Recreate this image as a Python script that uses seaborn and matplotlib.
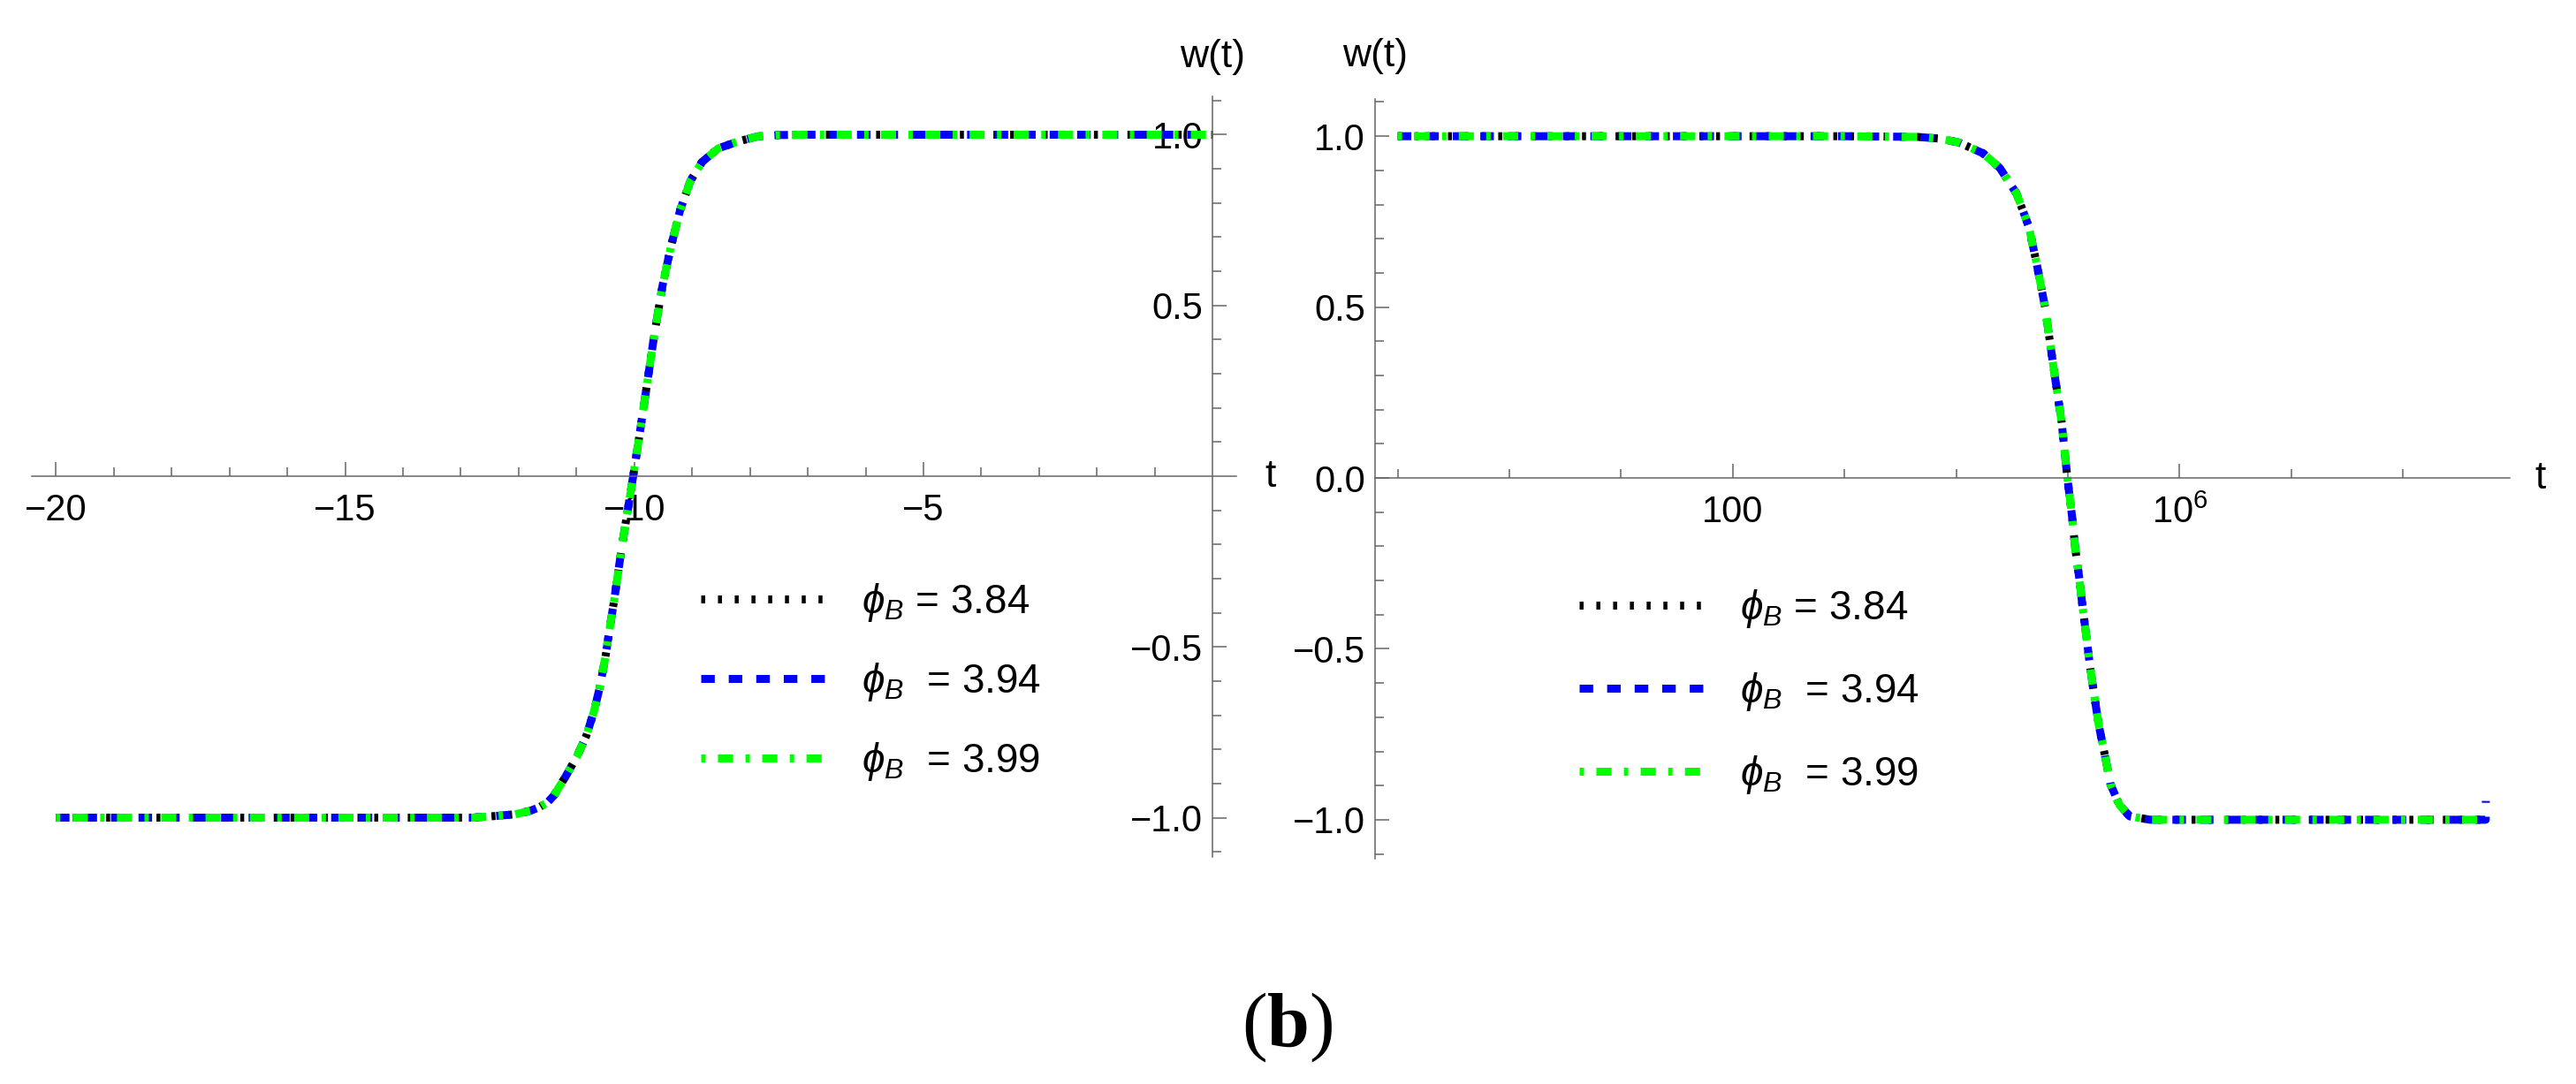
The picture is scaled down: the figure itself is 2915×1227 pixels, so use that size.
import numpy as np
import pandas as pd
import matplotlib.pyplot as plt
import matplotlib.transforms as mtransforms
from matplotlib.ticker import FixedLocator, FixedFormatter, NullFormatter
import seaborn as sns

# --- Datos ---
# Panel izquierdo: w(t) frente a t (las tres curvas coinciden)
t_left = [-20.0, -13.0, -12.8, -12.4, -12.06, -11.8, -11.65, -11.5, -11.39, -11.19,
          -10.99, -10.83, -10.70, -10.60, -10.50, -10.43, -10.35, -10.27, -10.20, -10.12,
          -10.02, -9.92, -9.78, -9.65, -9.51, -9.37, -9.21, -9.03, -8.83, -8.55,
          -8.21, -7.87, -7.5, -7.0, 0.0]
w_left = [-1.0, -1.0, -1.0, -0.995, -0.99, -0.98, -0.97, -0.955, -0.935, -0.88,
          -0.82, -0.76, -0.69, -0.62, -0.53, -0.45, -0.365, -0.27, -0.19, -0.106,
          0.0, 0.11, 0.27, 0.42, 0.56, 0.67, 0.778, 0.865, 0.92, 0.96,
          0.98, 0.995, 0.999, 1.0, 1.0]

# Panel derecho: w(t) frente a log10(t)
logt_right = [-1.0, 3.0, 3.65, 3.85, 4.02, 4.24, 4.39, 4.54, 4.65, 4.72,
              4.795, 4.87, 4.943, 4.995, 5.039, 5.065, 5.10, 5.131, 5.165, 5.197,
              5.236, 5.276, 5.33, 5.381, 5.46, 5.553, 5.737, 6.0, 8.74]
w_right = [1.0, 1.0, 0.998, 0.993, 0.982, 0.95, 0.907, 0.832, 0.735, 0.627,
           0.5, 0.326, 0.165, 0.0, -0.118, -0.205, -0.29, -0.377, -0.464, -0.55,
           -0.637, -0.723, -0.81, -0.896, -0.956, -0.99, -1.0, -1.0, -1.0]
# la curva azul termina con un pequeño salto
logt_right_tail_394 = [8.741]
w_right_tail_394 = [-0.945]

phi_values = ['3.84', '3.94', '3.99']
legend_labels = [r'$\phi_B$ = 3.84', r'$\phi_B$  = 3.94', r'$\phi_B$  = 3.99']
colors = ['#000000', '#0000FF', '#00FF00']
LW = 6.5
dash_styles = [
    (0, (0.5, 1.6)),              # punteado
    (0, (1.7, 1.75)),             # discontinuo
    (0, (0.55, 1.55, 1.9, 1.55)),  # punto-raya
]

AX_GRAY = '#666666'

# --- Estilo ---
sns.set_theme(style='white')
plt.rcParams['font.family'] = ['Liberation Sans', 'DejaVu Sans']
plt.rcParams['text.color'] = 'black'
plt.rcParams['mathtext.fontset'] = 'custom'
plt.rcParams['mathtext.rm'] = 'Liberation Sans'
plt.rcParams['mathtext.it'] = 'Liberation Sans:italic'
plt.rcParams['mathtext.bf'] = 'Liberation Serif:bold'
plt.rcParams['mathtext.fallback'] = 'stixsans'
plt.rcParams['axes.unicode_minus'] = True

W, H = 2915, 1227
fig = plt.figure(figsize=(W / 100, H / 100), dpi=100)

def px_axes(x0, y0, x1, y1):
    return fig.add_axes([x0 / W, 1 - y1 / H, (x1 - x0) / W, (y1 - y0) / H])

ax1 = px_axes(36, 109, 1399, 970)
ax2 = px_axes(1556, 112, 2840, 972)

df_left = pd.DataFrame({'t': t_left, 'w': w_left})
for lab, col, ls in zip(legend_labels, colors, dash_styles):
    sns.lineplot(data=df_left, x='t', y='w', ax=ax1, color=col, lw=LW, linestyle=ls,
                 dash_capstyle='butt', label=lab, estimator=None, sort=False)

ax2.set_xscale('log')
for i, (lab, col, ls) in enumerate(zip(legend_labels, colors, dash_styles)):
    lt = list(logt_right)
    ww = list(w_right)
    if phi_values[i] == '3.94':
        lt += logt_right_tail_394
        ww += w_right_tail_394
    df_r = pd.DataFrame({'t': 10 ** np.array(lt), 'w': ww})
    sns.lineplot(data=df_r, x='t', y='w', ax=ax2, color=col, lw=LW, linestyle=ls,
                 dash_capstyle='butt', label=lab, estimator=None, sort=False)

ax1.set_xlim(-20.417, 0.408)
ax1.set_ylim(-1.115, 1.1125)
ax2.set_xlim(10 ** -1.203, 10 ** 8.955)
ax2.set_ylim(-1.114, 1.109)

for ax in (ax1, ax2):
    ax.set_facecolor('none')
    ax.set_xlabel('')
    ax.set_ylabel('')
    for s in ('top', 'right'):
        ax.spines[s].set_visible(False)
    for s in ('left', 'bottom'):
        ax.spines[s].set_color(AX_GRAY)
        ax.spines[s].set_linewidth(1.1)
    ax.spines['bottom'].set_position(('data', 0))
    ax.tick_params(which='both', direction='in', color=AX_GRAY, width=1.1,
                   bottom=True, left=True, top=False, right=False,
                   labelcolor='black', labelsize=30)
    ax.tick_params(which='major', length=11.5)
    ax.tick_params(which='minor', length=7.2)
    ax.tick_params(axis='x', pad=14)
    ax.tick_params(axis='y', pad=8)

ax1.spines['left'].set_position(('data', 0))

# ticks panel izquierdo
x_major_left = [-20, -15, -10, -5]
x_minor_left = [v for v in range(-20, 0) if v not in x_major_left]
ax1.xaxis.set_major_locator(FixedLocator(x_major_left))
ax1.xaxis.set_major_formatter(FixedFormatter(['\u221220', '\u221215', '\u221210', '\u22125']))
ax1.xaxis.set_minor_locator(FixedLocator(x_minor_left))
y_major_left = [-1.0, -0.5, 0.5, 1.0]
ax1.yaxis.set_major_locator(FixedLocator(y_major_left))
ax1.yaxis.set_major_formatter(FixedFormatter(['\u22121.0', '\u22120.5', '0.5', '1.0']))
y_minor = [round(v / 10, 1) for v in range(-11, 12) if v % 5 != 0]
ax1.yaxis.set_minor_locator(FixedLocator(y_minor))

# ticks panel derecho
ax2.xaxis.set_major_locator(FixedLocator([1e2, 1e6]))
ax2.xaxis.set_major_formatter(FixedFormatter(['100', r'$10^{6}$']))
ax2.xaxis.set_minor_locator(FixedLocator([10.0 ** k for k in range(-1, 9) if k not in (2, 6)]))
ax2.xaxis.set_minor_formatter(NullFormatter())
ax2.yaxis.set_major_locator(FixedLocator([-1.0, -0.5, 0.0, 0.5, 1.0]))
ax2.yaxis.set_major_formatter(FixedFormatter(['\u22121.0', '\u22120.5', '0.0', '0.5', '1.0']))
ax2.yaxis.set_minor_locator(FixedLocator(y_minor))

# etiquetas de ejes
for ax, t_x in ((ax1, 1.0286), (ax2, 1.027)):
    tr = mtransforms.blended_transform_factory(ax.transAxes, ax.transData)
    ax.text(t_x, 0, 't', transform=tr, fontsize=32, ha='center', va='center')
tr1 = mtransforms.blended_transform_factory(ax1.transData, ax1.transAxes)
ax1.text(0, 1.052, 'w(t)', transform=tr1, fontsize=32, ha='center', va='center')
ax2.text(0.0, 1.056, 'w(t)', transform=ax2.transAxes, fontsize=32, ha='center', va='center')

# leyendas
leg_kw = dict(frameon=False, fontsize=33, handlelength=3.15, handletextpad=0.83,
              borderpad=0, borderaxespad=0, loc='center left',
              bbox_transform=fig.transFigure, labelcolor='black')
ax1.legend(bbox_to_anchor=(793 / W, 1 - 772 / H), labelspacing=0.92, **leg_kw)
ax2.legend(bbox_to_anchor=(1787 / W, 1 - 783 / H), labelspacing=1.0, **leg_kw)

fig.text(1457 / W, 1 - 1163 / H, r'($\mathbf{b}$)', family='Liberation Serif',
         fontsize=62, ha='center', va='center', color='black')

fig.savefig('out.png', dpi=100)
